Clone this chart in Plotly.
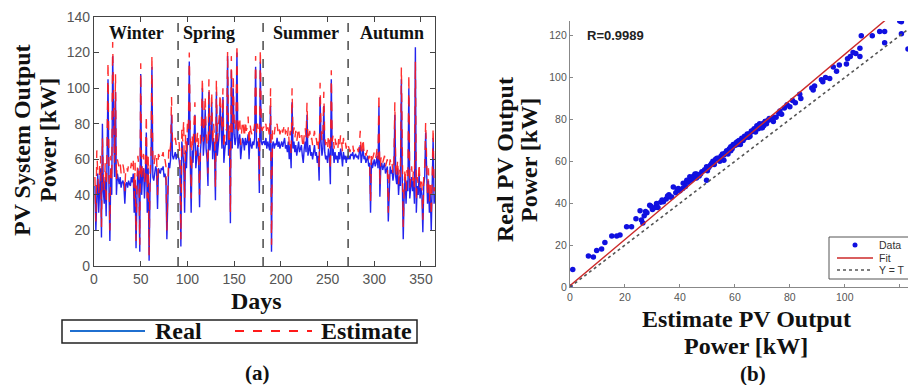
import plotly.graph_objects as go

W, H = 908, 385
def px(x):
    return x / W
def py(y):
    return 1 - y / H

# ---------------- data: panel (a) daily PV output [kW] ----------------
real_winter = [45, 20, 38, 52, 30, 48, 55, 16, 80, 42,
               35, 50, 28, 60, 105, 45, 14, 55, 40, 118,
               70, 50, 98, 40, 52, 48, 46, 50, 44, 47,
               48, 45, 35, 46, 47, 44, 48, 46, 45, 50,
               47, 52, 30, 48, 10, 40, 55, 48, 8, 108,
               40, 52, 55, 38, 50, 75, 30, 55, 3, 45,
               55, 112, 50, 48, 52, 56, 54, 32, 55, 53,
               52, 55, 54, 56, 50, 52, 48, 15, 40, 58,
               55, 60, 85, 62, 60, 62, 64, 60, 63, 62]
est_winter = [50, 25, 65, 55, 40, 55, 62, 22, 72, 50,
              42, 58, 35, 70, 115, 55, 20, 62, 48, 126,
              80, 58, 108, 48, 60, 56, 55, 58, 52, 56,
              57, 54, 42, 55, 56, 53, 57, 55, 54, 58,
              56, 60, 38, 58, 14, 48, 62, 56, 12, 114,
              48, 60, 63, 46, 58, 85, 38, 63, 6, 52,
              63, 119, 58, 56, 60, 64, 62, 40, 63, 61,
              60, 63, 62, 64, 58, 60, 56, 20, 48, 66,
              63, 68, 95, 70, 68, 70, 72, 68, 71, 70]

real_spring = [60, 55, 11, 70, 62, 58, 30, 65, 55, 72,
               68, 115, 60, 30, 65, 58, 70, 85, 55, 60,
               68, 58, 33, 65, 72, 100, 62, 70, 88, 66,
               60, 45, 98, 65, 70, 92, 60, 72, 64, 37,
               98, 62, 68, 74, 90, 70, 66, 95, 58, 65,
               70, 68, 118, 62, 72, 24, 110, 66, 100, 74,
               68, 72, 120, 66, 70, 74, 60, 68, 72, 70,
               65, 72, 68, 70, 74, 60, 72, 68, 66, 70,
               68, 72, 112, 66, 70, 68, 41, 115, 70, 68,
               70]
est_spring = [70, 62, 15, 78, 70, 82, 38, 74, 62, 80,
              76, 120, 68, 38, 74, 66, 80, 92, 62, 68,
              76, 66, 40, 74, 80, 106, 70, 80, 96, 75,
              68, 52, 105, 74, 78, 98, 68, 80, 72, 44,
              105, 70, 76, 84, 97, 80, 75, 100, 66, 74,
              78, 76, 121, 70, 80, 30, 118, 75, 108, 82,
              76, 80, 125, 74, 78, 84, 68, 76, 82, 78,
              72, 82, 76, 78, 84, 68, 80, 76, 74, 78,
              76, 80, 118, 74, 80, 76, 48, 122, 78, 76,
              78]

real_summer = [70, 68, 72, 66, 70, 68, 65, 90, 8,
               68, 70, 66, 69, 68, 72, 67, 70, 66, 68,
               70, 67, 69, 72, 66, 68, 64, 70, 60, 68,
               55, 92, 66, 70, 64, 68, 62, 66, 70, 64,
               66, 68, 62, 58, 66, 70, 64, 85, 62, 66,
               68, 62, 64, 60, 66, 68, 62, 64, 58, 62,
               48, 95, 70, 62, 66, 90, 64, 60, 62, 58,
               66, 62, 46, 105, 62, 66, 58, 64, 60, 62,
               58, 64, 60, 66, 62, 56, 64, 60, 62, 58,
               62, 60]
est_summer = [78, 76, 80, 74, 78, 76, 72, 100, 12,
              76, 78, 74, 79, 77, 80, 75, 78, 74, 76,
              79, 75, 78, 80, 74, 76, 72, 78, 68, 76,
              62, 100, 74, 78, 72, 76, 70, 74, 78, 72,
              74, 76, 70, 66, 74, 78, 72, 92, 70, 74,
              76, 70, 72, 68, 74, 76, 70, 72, 66, 70,
              55, 103, 78, 70, 74, 98, 72, 68, 70, 66,
              74, 70, 54, 110, 70, 74, 66, 72, 68, 70,
              66, 72, 68, 74, 70, 64, 72, 68, 70, 66,
              70, 68]

real_autumn = [62, 60, 63, 62, 64, 60, 62, 63,
               61, 62, 60, 64, 68, 58, 62, 66, 60, 62,
               58, 60, 62, 56, 58, 30, 60, 55, 58, 60,
               56, 58, 62, 55, 90, 39, 56, 58, 54, 56,
               58, 52, 54, 56, 25, 50, 56, 52, 54, 48,
               52, 85, 50, 46, 55, 40, 50, 45, 105, 48,
               15, 40, 50, 35, 48, 42, 100, 38, 45, 50,
               42, 48, 35, 123, 30, 45, 40, 52, 38, 44,
               40, 19, 46, 50, 75, 42, 35, 48, 30, 40,
               20, 45, 72, 35, 40]
est_autumn = [66, 64, 67, 66, 68, 64, 66, 67,
              65, 66, 64, 68, 76, 62, 66, 72, 64, 66,
              62, 64, 66, 60, 62, 36, 64, 60, 62, 64,
              60, 62, 66, 60, 97, 45, 60, 62, 58, 60,
              62, 56, 58, 60, 30, 55, 60, 56, 58, 52,
              56, 92, 55, 50, 60, 46, 55, 50, 112, 52,
              22, 46, 55, 42, 54, 48, 108, 44, 50, 56,
              48, 54, 42, 115, 36, 50, 46, 58, 44, 50,
              46, 26, 52, 56, 81, 48, 40, 55, 36, 46,
              28, 50, 78, 42, 44]

season_names = ["Winter", "Spring", "Summer", "Autumn"]
season_bounds = [0, 90, 181, 272, 365]

real_daily = real_winter + real_spring + real_summer + real_autumn
est_daily = est_winter + est_spring + est_summer + est_autumn
days_real = list(range(1, len(real_daily) + 1))
days_est = list(range(1, len(est_daily) + 1))

# ---------------- data: panel (b) regression ----------------
scatter_est = [0, 1, 6.7, 8.5, 9.7, 11.5, 12.7, 15.2, 17, 18.2,
               20.6, 22.4, 24, 25.5, 26, 26.5, 27, 28, 29, 30,
               31.5, 32, 33, 34, 35, 36, 37, 37.6, 38.5, 39.4,
               40, 41.2, 42, 43, 43.6, 44.5, 45, 46, 47, 48,
               49, 49.7, 49.7, 50.5, 51, 52, 52.5, 53, 54, 54.5,
               55, 56, 56.5, 57, 57.5, 58, 58.5, 59, 59.4, 60,
               60.5, 61, 61.5, 62, 62.5, 63, 63.5, 64, 64.5, 65,
               65.5, 66, 66.7, 67, 67.5, 68, 68.5, 69, 69.5, 70,
               70.5, 71, 71.5, 72, 73, 74, 75, 76, 76.4, 77,
               78, 79, 80, 81, 82, 83.6, 84, 88, 88.5, 89,
               91.5, 92, 93, 94.5, 95.8, 97, 98, 100.6, 101, 102,
               103, 104, 105.5, 105.5, 106, 110, 112.7, 114.5, 114.5, 120,
               120.6, 120.6, 123,
               36.5, 41, 44, 47.5, 51.5, 53.5, 55.5, 57, 58.5, 60,
               61, 62.5, 63.5, 64.5, 66, 67, 68, 69, 71, 72.5,
               46, 50, 56, 59, 62, 65, 70, 74,
               27.5, 29.5, 31, 33.5, 35.5, 39, 42.5, 45.5]
scatter_real = [0, 8.4, 14.8, 14.3, 17.4, 18.2, 21.3, 24.3, 24.3, 24.8,
                28.8, 28.8, 32.6, 36.4, 32, 30.5, 34, 35.5, 39, 37,
                39.9, 38, 40.5, 40.7, 42, 44, 43, 47.8, 45, 47,
                46, 49.5, 48, 50, 52.6, 51.5, 53, 54, 53, 55,
                56, 57.4, 51, 57, 58, 60, 58.5, 61, 61.5, 60,
                62.5, 63, 64, 65, 63.5, 66, 65, 67, 68, 67.5,
                69, 68, 70, 69.5, 71, 70, 72, 71.5, 72.5, 73,
                72, 74, 74.6, 75.5, 74, 76, 75.5, 77, 76, 78,
                77, 79, 78, 79.5, 80, 79, 81, 83, 84, 82.5,
                85.5, 87, 86, 89, 88, 92, 90, 95, 94, 96,
                99, 98, 100, 99.5, 105, 103, 106, 106.5, 109, 110,
                112, 111.5, 114, 110, 120, 120, 122, 122, 116.6, 127,
                120.9, 126.6, 113.6,
                43, 47, 51, 54, 59, 61.5, 63.5, 64, 67, 68,
                69.5, 70, 71, 73, 74.5, 75, 77, 78, 79, 80.5,
                52, 55.5, 60.5, 66, 68, 71.5, 76, 81,
                36, 38.5, 38, 41.5, 43.5, 46.5, 51, 54]
r_value = 0.9989
fit_slope = 1.105
fit_intercept = 0.6
line_x = [0, 123]

# ---------------- styles ----------------
SERIF = "Liberation Serif"
SANS = "Liberation Sans"
BLUE = "#2323ee"
RED = "#ff1a1a"

fig = go.Figure()

# panel (a)
fig.add_trace(go.Scatter(x=days_real, y=real_daily, mode="lines",
                         line=dict(color=BLUE, width=1.4),
                         xaxis="x", yaxis="y", showlegend=False))
fig.add_trace(go.Scatter(x=days_est, y=est_daily, mode="lines",
                         line=dict(color=RED, width=1.4, dash="dash"),
                         opacity=0.9,
                         xaxis="x", yaxis="y", showlegend=False))

# panel (b)
fig.add_trace(go.Scatter(x=scatter_est, y=scatter_real, mode="markers",
                         marker=dict(color="#1010e0", size=5.5),
                         xaxis="x2", yaxis="y2", showlegend=False))
fig.add_trace(go.Scatter(x=line_x, y=[fit_slope * v + fit_intercept for v in line_x],
                         mode="lines", line=dict(color="#cc2a2a", width=1.4),
                         xaxis="x2", yaxis="y2", showlegend=False))
fig.add_trace(go.Scatter(x=line_x, y=line_x, mode="lines",
                         line=dict(color="#555555", width=1.6, dash="dot"),
                         xaxis="x2", yaxis="y2", showlegend=False))

shapes = []
# season boundaries
for b in season_bounds[1:-1]:
    shapes.append(dict(type="line", xref="x", yref="y", x0=b, x1=b, y0=0, y1=140,
                       line=dict(color="#555555", width=1.6, dash="dash")))

# legend (a)
shapes.append(dict(type="rect", xref="paper", yref="paper",
                   x0=px(62), x1=px(417), y0=py(343), y1=py(320),
                   line=dict(color="#222222", width=1.5), fillcolor="white"))
shapes.append(dict(type="line", xref="paper", yref="paper",
                   x0=px(70), x1=px(145), y0=py(331), y1=py(331),
                   line=dict(color="#1f6fd0", width=2)))
shapes.append(dict(type="line", xref="paper", yref="paper",
                   x0=px(235), x1=px(312), y0=py(331), y1=py(331),
                   line=dict(color=RED, width=2, dash="dash")))

# legend (b)
shapes.append(dict(type="rect", xref="paper", yref="paper",
                   x0=px(829), x1=px(915), y0=py(279), y1=py(237),
                   line=dict(color="#555555", width=1), fillcolor="white"))
shapes.append(dict(type="circle", xref="paper", yref="paper",
                   x0=px(852.5), x1=px(857.5), y0=py(247.5), y1=py(242.5),
                   line=dict(color="#1010e0", width=0), fillcolor="#1010e0"))
shapes.append(dict(type="line", xref="paper", yref="paper",
                   x0=px(837), x1=px(873), y0=py(258), y1=py(258),
                   line=dict(color="#cc2a2a", width=1.4)))
shapes.append(dict(type="line", xref="paper", yref="paper",
                   x0=px(837), x1=px(873), y0=py(270), y1=py(270),
                   line=dict(color="#555555", width=1.4, dash="dot")))

ann = []
def text(t, x, y, size, font=SERIF, color="#111111", angle=0, xanchor="center", bold=True):
    ann.append(dict(text=("<b>%s</b>" % t) if bold else t, x=px(x), y=py(y),
                    xref="paper", yref="paper", showarrow=False,
                    font=dict(family=font, size=size, color=color),
                    textangle=angle, xanchor=xanchor, yanchor="middle"))

# season labels (a)
for i, name in enumerate(season_names):
    mid = (season_bounds[i] + season_bounds[i + 1]) / 2
    ann.append(dict(text="<b>%s</b>" % name, x=mid, y=131, xref="x", yref="y",
                    showarrow=False, xshift=(-12 if name == "Spring" else 0),
                    font=dict(family=SERIF, size=18, color="#111111")))

text("PV System Output", 22, 140, 24, angle=-90)
text("Power [kW]", 48, 140, 24, angle=-90)
text("Days", 256, 301, 24)
text("Real", 178, 331, 24)
text("Estimate", 366, 331, 24)
text("(a)", 257, 373, 21)

text("Real PV Output", 505, 160, 24, angle=-90)
text("Power [kW]", 529, 160, 24, angle=-90)
text("Estimate PV Output", 746, 319, 24)
text("Power [kW]", 746, 346, 24)
text("(b)", 753, 374, 21)
text("R=%.4f" % r_value, 585, 35, 13, font=SANS, color="#222222", xanchor="left")
text("Data", 877, 245, 10.5, font=SANS, color="#333333", xanchor="left", bold=False)
text("Fit", 877, 258, 10.5, font=SANS, color="#333333", xanchor="left", bold=False)
text("Y = T", 877, 270, 10.5, font=SANS, color="#333333", xanchor="left", bold=False)

axis_common = dict(showgrid=False, zeroline=False, automargin=False, ticks="inside",
                   showline=True)

fig.update_layout(
    template="none",
    width=W, height=H,
    margin=dict(l=0, r=0, t=0, b=0),
    paper_bgcolor="white", plot_bgcolor="white",
    showlegend=False,
    xaxis=dict(domain=[px(94), px(435)], range=[0, 365],
               tickvals=[0, 50, 100, 150, 200, 250, 300, 350],
               mirror="allticks", linecolor="#444444", linewidth=1.2,
               tickcolor="#444444", ticklen=5,
               tickfont=dict(family=SANS, size=14, color="#555555"),
               **axis_common),
    yaxis=dict(domain=[py(266), py(17)], range=[0, 140], dtick=20,
               anchor="x",
               mirror="allticks", linecolor="#444444", linewidth=1.2,
               tickcolor="#444444", ticklen=5,
               tickfont=dict(family=SANS, size=14, color="#555555"),
               **axis_common),
    xaxis2=dict(domain=[px(570), 1.0], range=[0, 123], dtick=20, anchor="y2",
                linecolor="#888888", linewidth=1.2, tickcolor="#888888", ticklen=3,
                tickfont=dict(family=SANS, size=10.5, color="#555555"),
                **axis_common),
    yaxis2=dict(domain=[py(287), py(21)], range=[0, 127], dtick=20, anchor="x2",
                linecolor="#888888", linewidth=1.2, tickcolor="#888888", ticklen=3,
                tickfont=dict(family=SANS, size=10.5, color="#555555"),
                **axis_common),
    shapes=shapes,
    annotations=ann,
)

fig.write_html("out.html",
               config={"displayModeBar": False},
               post_script="document.body.style.margin='0';document.body.style.overflow='hidden';")
